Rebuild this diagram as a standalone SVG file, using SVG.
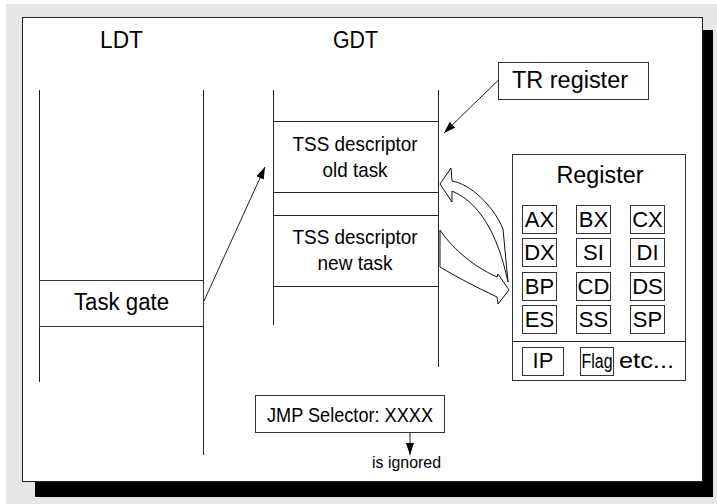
<svg xmlns="http://www.w3.org/2000/svg" width="717" height="504" viewBox="0 0 717 504">
<style>
text{font-family:"Liberation Sans",Arial,Helvetica,sans-serif;fill:#000}
.big{font-size:23px}
.mid{font-size:21px}
.cell{font-size:22px}
.box{fill:#fff;stroke:#333;stroke-width:1}
.ln{fill:none;stroke:#222;stroke-width:1}
.hollow{fill:#fff;stroke:#111;stroke-width:1;stroke-linejoin:miter}
</style>
<defs>
<marker id="ah" viewBox="0 0 12 8" refX="12" refY="4" markerWidth="12" markerHeight="8" markerUnits="userSpaceOnUse" orient="auto">
<path d="M0,0 L12,4 L0,8 Z" fill="#000"/>
</marker>
</defs>
<rect x="6" y="4" width="711" height="500" fill="#e6e7e9"/>
<rect x="35" y="30" width="678" height="467" fill="#000"/>
<rect x="22.5" y="17.5" width="680" height="464" fill="#fff" stroke="#222" stroke-width="1"/>

<g id="ldt">
<text class="big" x="121.5" y="48" text-anchor="middle" textLength="43" lengthAdjust="spacingAndGlyphs">LDT</text>
<line class="ln" x1="39.5" y1="90" x2="39.5" y2="382"/>
<line class="ln" x1="203.5" y1="90" x2="203.5" y2="455"/>
</g>
<g id="task-gate">
<rect class="box" x="39.5" y="280.5" width="164" height="46"/>
<text class="big" x="121.5" y="310" text-anchor="middle" textLength="95" lengthAdjust="spacingAndGlyphs">Task gate</text>
</g>
<g id="gdt">
<text class="big" x="355.5" y="48" text-anchor="middle" textLength="45" lengthAdjust="spacingAndGlyphs">GDT</text>
<line class="ln" x1="273.5" y1="90" x2="273.5" y2="325"/>
<line class="ln" x1="438.5" y1="90" x2="438.5" y2="367"/>
</g>
<g id="tss-old">
<line class="ln" x1="273.5" y1="121.5" x2="438.5" y2="121.5"/>
<line class="ln" x1="273.5" y1="192.5" x2="438.5" y2="192.5"/>
<text class="mid" x="355" y="151" text-anchor="middle" textLength="125" lengthAdjust="spacingAndGlyphs">TSS descriptor</text>
<text class="mid" x="355" y="177" text-anchor="middle" textLength="65" lengthAdjust="spacingAndGlyphs">old task</text>
</g>
<g id="tss-new">
<line class="ln" x1="273.5" y1="215.5" x2="438.5" y2="215.5"/>
<line class="ln" x1="273.5" y1="286.5" x2="438.5" y2="286.5"/>
<text class="mid" x="355" y="244" text-anchor="middle" textLength="125" lengthAdjust="spacingAndGlyphs">TSS descriptor</text>
<text class="mid" x="355" y="270" text-anchor="middle" textLength="75" lengthAdjust="spacingAndGlyphs">new task</text>
</g>
<g id="tr-register">
<rect class="box" x="498.5" y="62.5" width="150" height="37"/>
<text class="big" x="570" y="88" text-anchor="middle" textLength="116" lengthAdjust="spacingAndGlyphs">TR register</text>
</g>
<g id="register">
<rect class="box" x="512.5" y="154.5" width="173" height="226"/>
<line class="ln" x1="512.5" y1="341.5" x2="685.5" y2="341.5"/>
<text class="big" x="600" y="183" text-anchor="middle" textLength="87" lengthAdjust="spacingAndGlyphs">Register</text>
<rect class="box" x="522.5" y="205.5" width="34" height="28"/>
<rect class="box" x="576.5" y="205.5" width="34" height="28"/>
<rect class="box" x="630.5" y="205.5" width="34" height="28"/>
<rect class="box" x="522.5" y="238.5" width="34" height="28"/>
<rect class="box" x="576.5" y="238.5" width="34" height="28"/>
<rect class="box" x="630.5" y="238.5" width="34" height="28"/>
<rect class="box" x="522.5" y="272.5" width="34" height="28"/>
<rect class="box" x="576.5" y="272.5" width="34" height="28"/>
<rect class="box" x="630.5" y="272.5" width="34" height="28"/>
<rect class="box" x="522.5" y="305.5" width="34" height="28"/>
<rect class="box" x="576.5" y="305.5" width="34" height="28"/>
<rect class="box" x="630.5" y="305.5" width="34" height="28"/>
<rect class="box" x="522.5" y="347.5" width="41" height="28"/>
<rect class="box" x="580.5" y="347.5" width="33" height="28"/>
<text class="cell" x="539.5" y="227" text-anchor="middle">AX</text>
<text class="cell" x="593.5" y="227" text-anchor="middle">BX</text>
<text class="cell" x="647.5" y="227" text-anchor="middle">CX</text>
<text class="cell" x="539.5" y="260" text-anchor="middle">DX</text>
<text class="cell" x="593.5" y="260" text-anchor="middle">SI</text>
<text class="cell" x="647.5" y="260" text-anchor="middle">DI</text>
<text class="cell" x="539.5" y="294" text-anchor="middle">BP</text>
<text class="cell" x="593.5" y="294" text-anchor="middle">CD</text>
<text class="cell" x="647.5" y="294" text-anchor="middle">DS</text>
<text class="cell" x="539.5" y="327" text-anchor="middle">ES</text>
<text class="cell" x="593.5" y="327" text-anchor="middle">SS</text>
<text class="cell" x="647.5" y="327" text-anchor="middle">SP</text>
<text class="cell" x="543" y="368" text-anchor="middle">IP</text>
<text x="597" y="368" font-size="20" text-anchor="middle" textLength="31" lengthAdjust="spacingAndGlyphs">Flag</text>
<text class="cell" x="619" y="368" textLength="55" lengthAdjust="spacingAndGlyphs">etc...</text>
</g>
<g id="jmp-selector">
<rect class="box" x="255.5" y="395.5" width="189" height="37"/>
<text class="mid" x="350" y="422" text-anchor="middle" textLength="166" lengthAdjust="spacingAndGlyphs">JMP Selector: XXXX</text>
</g>
<g id="is-ignored">
<text x="372" y="468" font-size="17" textLength="69" lengthAdjust="spacingAndGlyphs">is ignored</text>
</g>
<g id="connectors">
<line class="ln" x1="204" y1="301" x2="265" y2="167" marker-end="url(#ah)"/>
<line class="ln" x1="498.5" y1="80" x2="444" y2="133" marker-end="url(#ah)"/>
<line class="ln" x1="410" y1="433" x2="410" y2="455" marker-end="url(#ah)"/>
<path class="hollow" d="M440,184 L451,168 L452,181 C470,184 493,205 503,229 L508,282 C500,245 485,205 452,191 L452,202 Z"/>
<path class="hollow" d="M440,230 C450,245 470,265 497,277 L498,274 L509,290 L498,304 L497,297 Q465,282 440,267 Z"/>
</g>
</svg>
